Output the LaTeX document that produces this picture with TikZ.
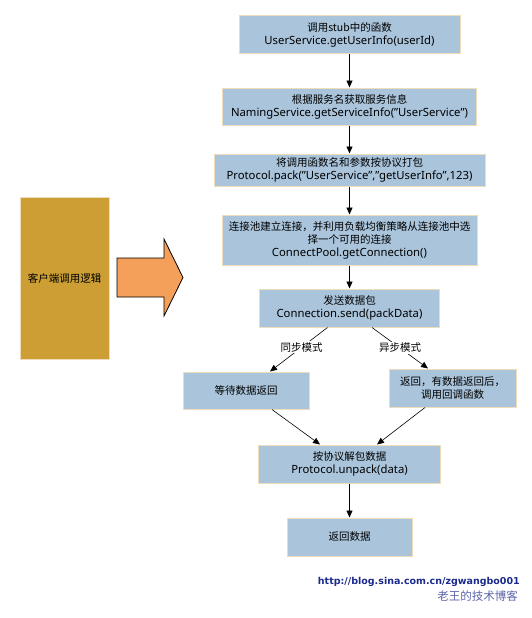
\documentclass[tikz,border=0pt]{standalone}
\usepackage{fontspec}
\setmainfont{Noto Sans CJK SC}
\newfontfamily\urlfont{DejaVu Sans}
\newfontfamily\codefont{Noto Sans}
\usetikzlibrary{positioning,arrows.meta}
\definecolor{boxblue}{HTML}{A9C4DB}
\definecolor{boxedge}{HTML}{EEDDBB}
\definecolor{clientgold}{HTML}{CC9E33}
\definecolor{arroworange}{HTML}{F5A05A}
\definecolor{linkblue}{HTML}{1B2A8C}
\definecolor{blogblue}{HTML}{5A64A8}
\newcommand{\code}[1]{{\codefont\fontsize{11.3}{13}\selectfont #1}}

\begin{document}
\begin{tikzpicture}[x=1pt,y=-1pt,
  procbox/.style={rectangle, draw=boxedge, line width=1pt, fill=boxblue, align=center, inner sep=2pt, font=\fontsize{10.5}{13}\selectfont},
  flow/.style={-{Triangle[length=7pt,width=6pt]}, line width=0.9pt},
  branch/.style={-{Triangle[length=7pt,width=6pt]}, line width=0.6pt},
  modelabel/.style={fill=white, inner sep=1pt, font=\fontsize{10.5}{12}\selectfont}]
  \useasboundingbox (0,0) rectangle (531,618);
  % main column
  \node[procbox, minimum width=221pt, minimum height=38pt] (call) at (349.5,35) {调用stub中的函数\\\code{UserService.getUserInfo(userId)}};
  \node[procbox, minimum width=254pt, minimum height=37pt, below=33pt of call] (naming) {根据服务名获取服务信息\\\code{NamingService.getServiceInfo(”UserService”)}};
  \node[procbox, minimum width=271pt, minimum height=32pt, below=28pt of naming] (pack) {将调用函数名和参数按协议打包\\\code{Protocol.pack(”UserService”,”getUserInfo”,123)}};
  \node[procbox, minimum width=255pt, minimum height=50pt, below=28pt of pack] (pool) {连接池建立连接，并利用负载均衡策略从连接池中选\\择一个可用的连接\\\code{ConnectPool.getConnection()}};
  \node[procbox, minimum width=180pt, minimum height=38pt, below=23pt of pool] (send) {发送数据包\\\code{Connection.send(packData)}};
  \node[procbox, minimum width=126pt, minimum height=37pt] (wait) at (246,390.5) {等待数据返回};
  \node[procbox, minimum width=127pt, minimum height=38pt] (callback) at (452.5,388) {返回，有数据返回后，\\调用回调函数};
  \node[procbox, minimum width=182pt, minimum height=38pt] (unpack) at (349.5,464) {按协议解包数据\\\code{Protocol.unpack(data)}};
  \node[procbox, minimum width=125pt, minimum height=38pt, below=34pt of unpack] (result) {返回数据};
  \draw[flow] (call) -- (naming);
  \draw[flow] (naming) -- (pack);
  \draw[flow] (pack) -- (pool);
  \draw[flow] (pool) -- (send);
  \draw[branch] ([xshift=-22pt]send.south) -- node[modelabel, pos=0.45] {同步模式} ([xshift=24pt]wait.north);
  \draw[branch] ([xshift=22.5pt]send.south) -- node[modelabel, pos=0.5] {异步模式} ([xshift=-24.5pt]callback.north);
  \draw[branch] ([xshift=26pt]wait.south) -- ([xshift=-29.5pt]unpack.north);
  \draw[branch] ([xshift=-27.5pt]callback.south) -- ([xshift=27.5pt]unpack.north);
  \draw[flow] (unpack) -- (result);
  % client side
  \node[rectangle, draw=boxedge, line width=1pt, fill=clientgold, minimum width=89pt, minimum height=162pt, font=\fontsize{10.5}{13}\selectfont] (client) at (64.5,278) {客户端调用逻辑};
  \draw[fill=arroworange, draw=black, line width=0.8pt] (117,258) -- (164,258) -- (164,239) -- (183,277.5) -- (164,316) -- (164,297) -- (117,297) -- cycle;
  % watermark
  \node[anchor=east, inner sep=0pt, text=linkblue, font=\urlfont\bfseries\fontsize{9.5}{11}\selectfont] (url) at (520,582) {http://blog.sina.com.cn/zgwangbo001};
  \node[anchor=east, inner sep=0pt, text=blogblue, font=\fontsize{11.5}{13}\selectfont] (blog) at (518,596) {老王的技术博客};
\end{tikzpicture}
\end{document}
